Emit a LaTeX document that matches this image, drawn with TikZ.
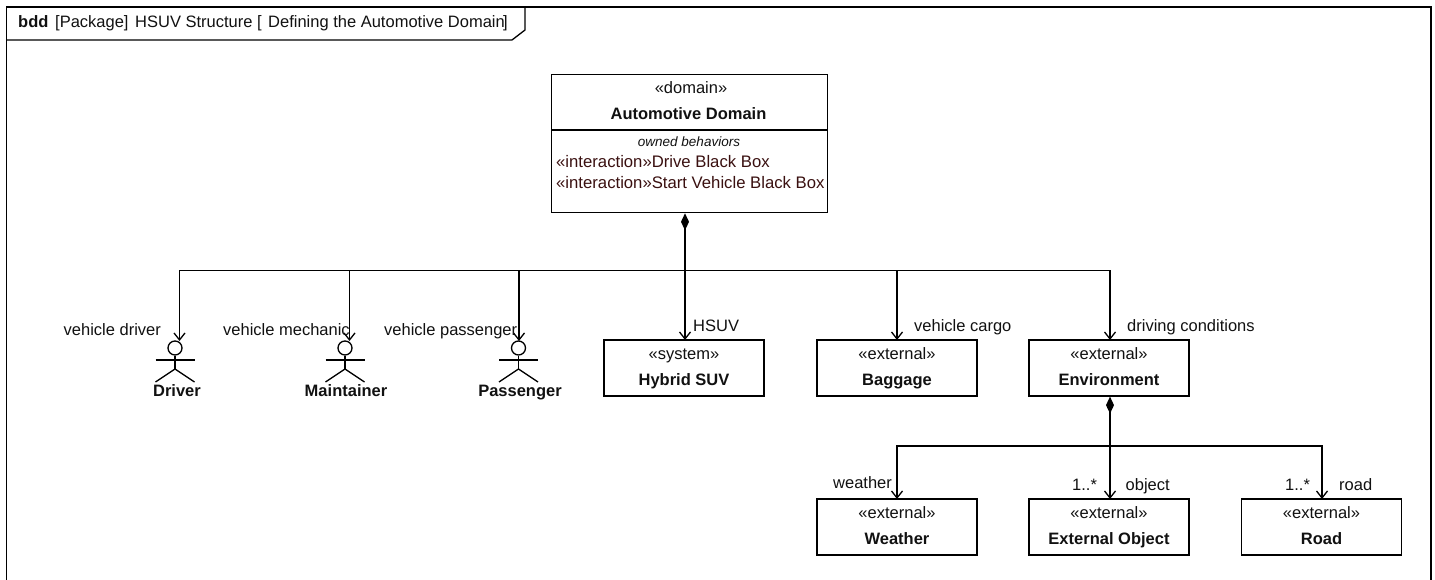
\documentclass[tikz,border=0pt]{standalone}
\usepackage{fontspec}
\setmainfont{Liberation Sans}
\usetikzlibrary{arrows.meta}
\definecolor{opcol}{HTML}{3A1010}
\definecolor{ink}{HTML}{111111}
\tikzset{
  x=1pt,y=-1pt,
  every node/.style={font=\fontsize{16.5}{19}\selectfont,inner sep=0,text=ink},
  line/.style={draw=black,line width=1.3pt},
  blockbox/.style={line,rectangle,minimum width=160pt,minimum height=56pt,fill=white},
  part/.style={line,-{Straight Barb[length=7pt,width=11pt,line width=1.3pt]}},
  comp/.style={line,line width=2pt,{Diamond[length=17pt,width=8pt]}-},
  bf/.style={font=\fontsize{16.5}{19}\selectfont\bfseries},
  lab/.style={anchor=base west},
  mid/.style={anchor=base},
  oper/.style={anchor=base west,text=opcol,font=\fontsize{16.7}{19}\selectfont},
}
\begin{document}
\begin{tikzpicture}
\useasboundingbox (0,0) rectangle (1435,580);
% frame (open at the lower edge of the picture)
\coordinate (frBL) at (6.5,581);
\coordinate (frTL) at (6.5,7);
\coordinate (frTR) at (1431,7);
\coordinate (frBR) at (1431,581);
\draw[line] (frBL) -- (frTL) -- (frTR) -- (frBR);
\coordinate (tabA) at (6.5,40);
\coordinate (tabB) at (512,40);
\coordinate (tabC) at (525,30);
\coordinate (tabD) at (525,7);
\draw[line] (tabA) -- (tabB) -- (tabC) -- (tabD);
\node[lab,bf] (kind) at (18,28) {bdd};
\node[lab] (title) at (55,28) {[Package]};
\node[lab] (title1) at (135,28) {HSUV Structure};
\node[lab] (title2) at (257,28) {[};
\node[lab] (title2b) at (268,28) {Defining the Automotive Domain};
\node[lab] (title3) at (503,28) {]};
% domain block
\node[line,rectangle,minimum width=276pt,minimum height=138pt,anchor=north west] (auto) at (551,74) {};
\coordinate (divL) at (551,130);
\coordinate (divR) at (827,130);
\draw[line] (divL) -- (divR);
\node[mid] (autoS) at (691,94) {«domain»};
\node[mid,bf] (autoN) at (688.5,120) {Automotive Domain};
\node[mid,font=\fontsize{13.5}{16}\selectfont\itshape] (autoC) at (689,147) {owned behaviors};
\node[oper] (op1) at (556,168) {«interaction»Drive Black Box};
\node[oper] (op2) at (556,189) {«interaction»Start Vehicle Black Box};
% actors
\foreach \n/\cx/\lbl/\lx in {driver/175/Driver/177, maint/345/Maintainer/346, pass/518.5/Passenger/520}{
  \node[line,circle,minimum size=14pt,fill=white] (\n head) at (\cx,348) {};
  \coordinate (\n hip) at (\cx,369);
  \coordinate (\n armL) at (\cx-19.5,360);
  \coordinate (\n armR) at (\cx+19.5,360);
  \coordinate (\n legL) at (\cx-19.5,382);
  \coordinate (\n legR) at (\cx+19.5,382);
  \draw[line] (\n head.south) -- (\n hip);
  \draw[line] (\n armL) -- (\n armR);
  \draw[line] (\n legL) -- (\n hip) -- (\n legR);
  \node[mid,bf] (\n name) at (\lx,396) {\lbl};
}
% blocks
\foreach \n/\cx/\cy/\st/\lbl in {
  hsuv/684/368/system/Hybrid SUV,
  bag/897/368/external/Baggage,
  env/1109/368/external/Environment,
  wea/897/527/external/Weather,
  ext/1109/527/external/External Object,
  road/1321.5/527/external/Road}{
  \node[blockbox] (\n) at (\cx,\cy) {};
  \node[mid] (\n S) at (\cx,\cy-8.5) {«\st»};
  \node[mid,bf] (\n N) at (\cx,\cy+17.5) {\lbl};
}
% upper tree
\coordinate (hub) at (685,270.5);
\coordinate (toDriver) at (179.5,341);
\coordinate (toMaint) at (349.5,341);
\coordinate (toPass) at (519,341);
\coordinate (toHsuv) at (685,340);
\coordinate (toBag) at (897,340);
\coordinate (toEnv) at (1110,340);
\draw[comp] (auto.south -| hub) -- (hub);
\draw[part] (hub) -| (toDriver);
\draw[part] (hub) -| (toMaint);
\draw[part] (hub) -| (toPass);
\draw[part] (hub) -- (toHsuv);
\draw[part] (hub) -| (toBag);
\draw[part] (hub) -| (toEnv);
% lower tree
\coordinate (hubB) at (1110,446);
\coordinate (toWea) at (897,499);
\coordinate (toExt) at (1110,499);
\coordinate (toRoad) at (1322,499);
\draw[comp] (env.south -| hubB) -- (hubB);
\draw[part] (hubB) -| (toWea);
\draw[part] (hubB) -- (toExt);
\draw[part] (hubB) -| (toRoad);
% labels
\node[lab] (l1) at (63.5,335) {vehicle driver};
\node[lab] (l2) at (223,335) {vehicle mechanic};
\node[lab] (l3) at (384,335) {vehicle passenger};
\node[lab] (l4) at (693,331) {HSUV};
\node[lab] (l5) at (914,331) {vehicle cargo};
\node[lab] (l6) at (1127,331) {driving conditions};
\node[lab] (l7) at (833,488) {weather};
\node[lab] (l8) at (1072,490) {1..*};
\node[lab] (l9) at (1125.5,490) {object};
\node[lab] (l10) at (1285,490) {1..*};
\node[lab] (l11) at (1339,490) {road};
\end{tikzpicture}
\end{document}
